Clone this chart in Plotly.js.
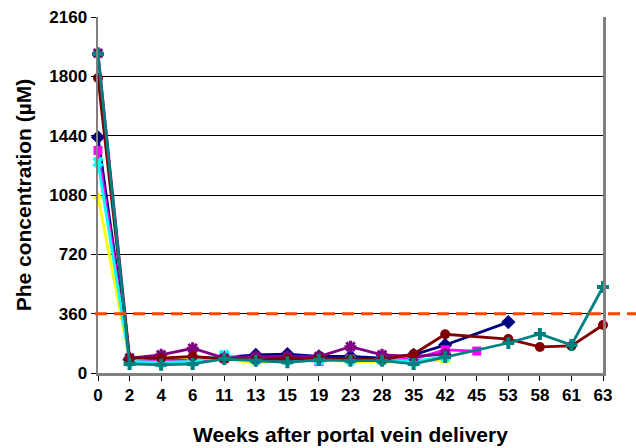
<!DOCTYPE html>
<html><head><meta charset="utf-8">
<script src="https://cdn.plot.ly/plotly-3.0.1.min.js"></script>
<style>html,body{margin:0;padding:0;background:#fff}#chart{width:636px;height:448px}</style>
</head><body><div id="chart"></div>
<script>
const weeks = ["0","2","4","6","11","13","15","19","23","28","35","42","45","53","58","61","63"];
const seriesNavy    = [1430, 80, 80, 85, 95, 110, 115, 100, 100, 90, 110, 170, null, 309, null, null, null];
const seriesMagenta = [1350, 75, 75, 75, 90, 90, 85, 70, 85, 75, 85, 140, 133, null, null, null, null];
const seriesYellow  = [1070, 80, 100, 90, 85, 60, 75, 80, 70, 65, 75, 75, null, null, null, null, null];
const seriesCyan    = [1280, 70, 65, 70, 110, 80, 80, 80, 80, 80, 70, 100, null, null, null, null, null];
const seriesPurple  = [1940, 90, 110, 150, 90, 100, 100, 100, 160, 110, 100, 115, null, null, null, null, null];
const seriesMaroon  = [1790, 90, 90, 100, 85, 80, 85, 90, 85, 80, 115, 235, null, 206, 158, 164, 291];
const seriesTeal    = [1935, 55, 50, 55, 85, 75, 65, 80, 75, 75, 55, 97, null, 182, 237, 170, 522];
const yTicks = [0, 360, 720, 1080, 1440, 1800, 2160];
const threshold = 360;

const defs = [
  [seriesNavy, '#000080', 'diamond', 11],
  [seriesMagenta, '#FF00FF', 'square', 9],
  [seriesYellow, '#FFFF00', 'triangle-up', 10],
  [seriesCyan, '#00FFFF', 'x', 10],
  [seriesPurple, '#800080', 'asterisk-open', 10],
  [seriesMaroon, '#800000', 'circle', 10],
  [seriesTeal, '#008080', 'cross', 10]
];
const traces = defs.map(d => ({
  x: weeks, y: d[0], type: 'scatter', mode: 'lines+markers', connectgaps: true,
  cliponaxis: false,
  line: {color: d[1], width: 2.8},
  marker: {color: d[1], symbol: d[2], size: d[3], line: {color: d[1], width: d[2]==='asterisk-open'?3:0}}
}));

const FONT = 'Liberation Sans, Arial, sans-serif';
const layout = {
  width: 636, height: 448, showlegend: false,
  paper_bgcolor: '#fff', plot_bgcolor: '#fff',
  margin: {l: 98, r: 33, t: 17, b: 75},
  font: {family: FONT, color: '#000'},
  xaxis: {
    type: 'category', range: [0, 16], showgrid: false, zeroline: false,
    showline: true, linecolor: '#808080', linewidth: 2.5,
    ticks: 'outside', ticklen: 5, tickcolor: '#000', tickwidth: 1,
    tickfont: {size: 17, family: FONT, weight: 'bold'},
    title: {text: '<b>Weeks after portal vein delivery</b>', font: {size: 21, family: FONT}, standoff: 24}
  },
  yaxis: {
    range: [0, 2160], tickvals: yTicks, showgrid: true, gridcolor: '#000', gridwidth: 1,
    zeroline: false, showline: true, mirror: true, linecolor: '#808080', linewidth: 2.5,
    ticks: 'outside', ticklen: 5, tickcolor: '#000', tickwidth: 1,
    tickfont: {size: 17, family: FONT, weight: 'bold'},
    title: {text: '<b>Phe concentration (µM)</b>', font: {size: 21, family: FONT}, standoff: 12}
  },
  shapes: [{
    type: 'line', xref: 'paper', yref: 'y', x0: -0.006, x1: 1.07, y0: threshold, y1: threshold,
    line: {color: '#FF4500', width: 3, dash: '12px,7px'}, layer: 'above'
  }]
};
Plotly.newPlot('chart', traces, layout, {staticPlot: true});
</script></body></html>
